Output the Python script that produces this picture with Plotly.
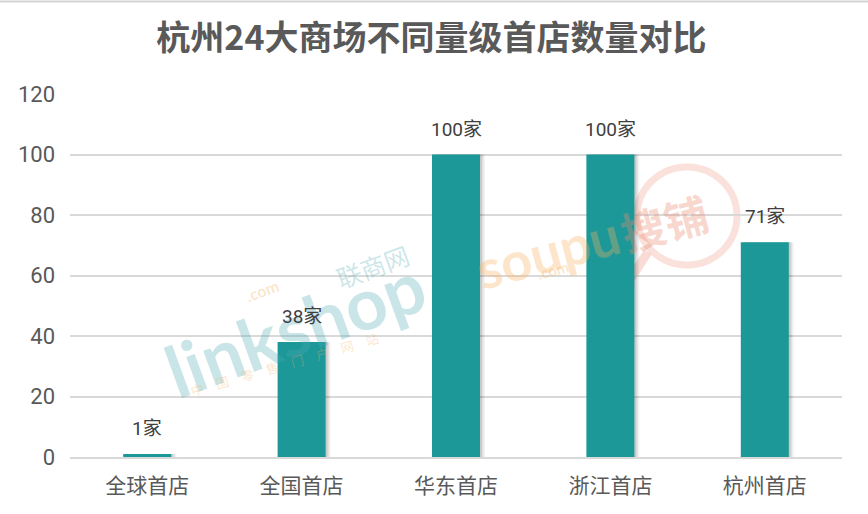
import plotly.graph_objects as go

categories = ["全球首店", "全国首店", "华东首店", "浙江首店", "杭州首店"]
values = [1, 38, 100, 100, 71]
labels = ["1家", "38家", "100家", "100家", "71家"]
title_text = "杭州24大商场不同量级首店数量对比"
y_ticks = [0, 20, 40, 60, 80, 100, 120]

BAR_COLOR = "#1c9899"
TEXT_COLOR = "#595959"
FONT = "Roboto, 'Noto Sans CJK SC', sans-serif"
BW = 0.311

# plot area in pixels (for decorative watermark placement)
PL, PR, PT, PB = 70, 842, 94, 457


def px(x):
    return (x - PL) / (PR - PL)


def py(y):
    return (PB - y) / (PB - PT)


fig = go.Figure()

# soft shadow layers to the right of bars
for dx, a in [(0.032, 0.05), (0.022, 0.07), (0.012, 0.10)]:
    fig.add_trace(go.Bar(
        x=categories, y=values, width=[BW] * len(values),
        offset=[-BW / 2 + dx] * len(values),
        marker=dict(color=f"rgba(0,0,0,{a})", line=dict(width=0)),
        hoverinfo="skip", showlegend=False,
    ))

fig.add_trace(go.Bar(
    x=categories, y=values, width=[BW] * len(values),
    offset=[-BW / 2] * len(values),
    marker=dict(color=BAR_COLOR, line=dict(width=0)),
    showlegend=False,
))

annotations = []
# watermarks (decorative, drawn first so labels sit above)
teal_wm = "rgba(80,170,180,0.30)"
orange_wm = "rgba(245,175,95,0.33)"
salmon_wm = "rgba(235,140,115,0.35)"
annotations += [
    dict(xref="paper", yref="paper", x=px(295), y=py(327), text="<b>linkshop</b>",
         xanchor="center", yanchor="middle", showarrow=False, textangle=-20,
         font=dict(family="Lato, sans-serif", size=72, color=teal_wm)),
    dict(xref="paper", yref="paper", x=px(262), y=py(290), text="<b>.com</b>",
         xanchor="center", yanchor="middle", showarrow=False, textangle=-20,
         font=dict(family="Lato, sans-serif", size=16, color=orange_wm)),
    dict(xref="paper", yref="paper", x=px(372), y=py(266), text="联商网",
         xanchor="center", yanchor="middle", showarrow=False, textangle=-20,
         font=dict(family="'Noto Sans CJK SC'", size=25, color=teal_wm)),
    dict(xref="paper", yref="paper", x=px(284), y=py(364),
         text="中\u2003国\u2003零\u2003售\u2003门\u2003户\u2003网\u2003站",
         xanchor="center", yanchor="middle", showarrow=False, textangle=-16,
         font=dict(family="'Noto Sans CJK SC'", size=13, color=orange_wm)),
    dict(xref="paper", yref="paper", x=px(548), y=py(252), text="<b>soupu</b>",
         xanchor="center", yanchor="middle", showarrow=False, textangle=-15,
         font=dict(family="Lato, sans-serif", size=54, color=orange_wm)),
    dict(xref="paper", yref="paper", x=px(553), y=py(270), text="<b>.com</b>",
         xanchor="center", yanchor="middle", showarrow=False, textangle=-15,
         font=dict(family="Lato, sans-serif", size=15, color=orange_wm)),
    dict(xref="paper", yref="paper", x=px(664), y=py(222), text="<b>搜铺</b>",
         xanchor="center", yanchor="middle", showarrow=False, textangle=-15,
         font=dict(family="'Noto Sans CJK SC'", size=44, color=salmon_wm)),
]

for c, v, t in zip(categories, values, labels):
    annotations.append(dict(
        x=c, y=v, text=t, showarrow=False, xref="x", yref="y",
        xanchor="center", yanchor="bottom", yshift=12,
        font=dict(family=FONT, size=19, color="#404040"),
    ))

shapes = [
    # thin gray border at the top of the image
    dict(type="line", xref="paper", yref="paper", x0=-0.1, x1=1.1,
         y0=py(1.5), y1=py(1.5), line=dict(color="#d4d4d4", width=2)),
    # magnifier ring + handle of the soupu watermark
    dict(type="circle", xref="paper", yref="paper",
         x0=px(637), x1=px(737), y0=py(265), y1=py(167),
         line=dict(color="rgba(235,140,115,0.26)", width=7), layer="below"),
    dict(type="line", xref="paper", yref="paper",
         x0=px(648), x1=px(618), y0=py(252), y1=py(298),
         line=dict(color="rgba(235,140,115,0.30)", width=9), layer="below"),
]

fig.update_layout(
    width=868, height=514,
    barmode="overlay",
    paper_bgcolor="white", plot_bgcolor="white",
    margin=dict(l=PL, r=868 - PR, t=PT, b=514 - PB),
    title=dict(text=f"<b>{title_text}</b>", x=0.497, xanchor="center",
               y=1 - 38 / 514, yanchor="middle", yref="container",
               font=dict(family="'Noto Sans CJK SC', sans-serif", size=34, color=TEXT_COLOR)),
    font=dict(family=FONT, color=TEXT_COLOR),
    annotations=annotations,
    shapes=shapes,
)

fig.update_yaxes(
    range=[0, 120], tickvals=y_ticks, showgrid=True, gridcolor="#d9d9d9", gridwidth=1.5,
    zeroline=False, showline=False, ticks="", ticklabelstandoff=14,
    tickfont=dict(family=FONT, size=22, color=TEXT_COLOR),
)
fig.update_xaxes(
    showline=True, linecolor="#d9d9d9", linewidth=1.5, ticks="",
    ticklabelstandoff=9, range=[-0.5, 4.5],
    tickfont=dict(family=FONT, size=21, color=TEXT_COLOR),
)

fig.write_html(
    "out.html",
    config={"displayModeBar": False},
    post_script="document.body.style.margin='0';document.body.style.padding='0';",
)
